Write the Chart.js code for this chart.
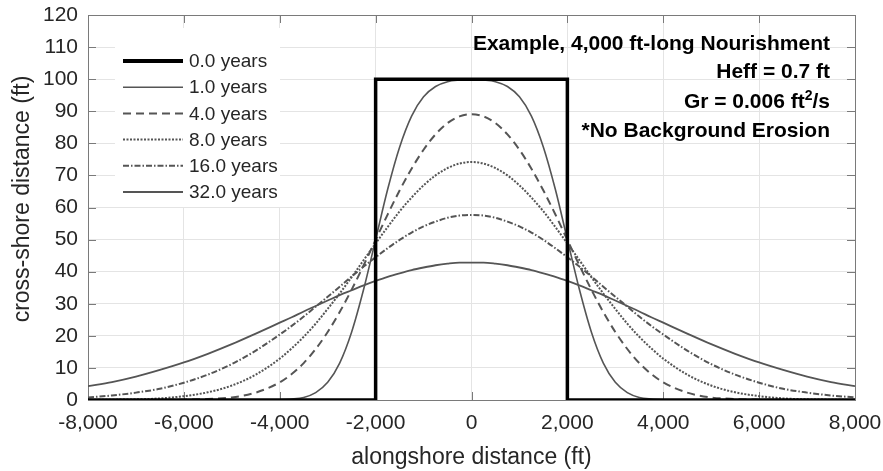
<!DOCTYPE html>
<html>
<head>
<meta charset="utf-8">
<script src="https://cdn.jsdelivr.net/npm/chart.js@4.4.1/dist/chart.umd.min.js"></script>
<style>
  html, body { margin: 0; padding: 0; background: #fff; }
  #wrap { width: 883px; height: 471px; }
</style>
</head>
<body>
<div id="wrap"><canvas id="grafico" width="883" height="471"></canvas></div>
<script>
// alongshore positions (ft) shared by the diffused profiles
const xs = [-8000,-7500,-7000,-6500,-6000,-5500,-5000,-4500,
  -4000,-3750,-3500,-3250,-3000,-2750,-2500,-2250,-2000,-1750,-1500,-1250,-1000,-750,-500,-250,
  0,250,500,750,1000,1250,1500,1750,2000,2250,2500,2750,3000,3250,3500,3750,4000,
  4500,5000,5500,6000,6500,7000,7500,8000];

// initial fill: 4,000 ft long, 100 ft wide
const stepX = [-8000, -2000, -2000, 2000, 2000, 8000];
const stepY = [0, 0, 100, 100, 0, 0];

// shoreline position (ft) after each time
const y1 = [0,0,0,0,0,0,0,0, 0.1,0.3,0.8,2.3,5.5,11.5,21.2,34.5,50.0,65.6,78.8,88.5,94.5,97.7,99.2,99.7,
  99.9, 99.7,99.2,97.7,94.5,88.5,78.8,65.6,50.0,34.5,21.2,11.5,5.5,2.3,0.8,0.3,0.1, 0,0,0,0,0,0,0,0];
const y4 = [0,0,0,0,0.1,0.3,0.8,2.3, 5.5,8.1,11.5,15.9,21.2,27.4,34.4,42.0,49.9,57.8,65.3,72.1,78.0,82.8,86.3,88.4,
  89.1, 88.4,86.3,82.8,78.0,72.1,65.3,57.8,49.9,42.0,34.4,27.4,21.2,15.9,11.5,8.1,5.5, 2.3,0.8,0.3,0.1,0,0,0,0];
const y8 = [0,0.1,0.2,0.5,1.2,2.4,4.5,7.9, 12.9,16.1,19.7,23.8,28.4,33.2,38.3,43.6,48.8,53.9,58.8,63.1,66.9,70.0,72.3,73.7,
  74.2, 73.7,72.3,70.0,66.9,63.1,58.8,53.9,48.8,43.6,38.3,33.2,28.4,23.8,19.7,16.1,12.9, 7.9,4.5,2.4,1.2,0.5,0.2,0.1,0];
const y16 = [0.8,1.4,2.3,3.5,5.4,7.9,11.2,15.4, 20.4,23.1,26.0,29.1,32.2,35.3,38.5,41.6,44.5,47.3,49.9,52.2,54.1,55.6,56.8,57.5,
  57.7, 57.5,56.8,55.6,54.1,52.2,49.9,47.3,44.5,41.6,38.5,35.3,32.2,29.1,26.0,23.1,20.4, 15.4,11.2,7.9,5.4,3.5,2.3,1.4,0.8];
const y32 = [4.3,5.6,7.3,9.4,11.7,14.4,17.4,20.7, 24.1,25.8,27.6,29.3,31.0,32.7,34.2,35.7,37.1,38.4,39.5,40.5,41.3,42.0,42.5,42.8,
  42.8, 42.8,42.5,42.0,41.3,40.5,39.5,38.4,37.1,35.7,34.2,32.7,31.0,29.3,27.6,25.8,24.1, 20.7,17.4,14.4,11.7,9.4,7.3,5.6,4.3];

const labels = ["0.0 years","1.0 years","4.0 years","8.0 years","16.0 years","32.0 years"];
const notes = ["Example, 4,000 ft-long Nourishment","Heff = 0.7 ft","*No Background Erosion"];
const yTitulo = "cross-shore distance (ft)";

const FONT = "'Liberation Sans', Arial, sans-serif";
const cinza = "#555555";

function pares(xv, yv){ return xv.map((x,i) => ({x: x, y: yv[i]})); }

function curva(label, yv, dash, w){
  return {
    label: label, data: pares(xs, yv),
    borderColor: cinza, borderWidth: w, borderDash: dash,
    pointRadius: 0, cubicInterpolationMode: "monotone", fill: false
  };
}

// box with inward tick marks on all four sides
const caixa = {
  id: "caixa",
  beforeDatasetsDraw(chart){
    const {ctx, chartArea: a, scales: {x, y}} = chart;
    ctx.save();
    ctx.strokeStyle = "#7a7a7a";
    ctx.lineWidth = 1;
    ctx.beginPath();
    x.ticks.forEach(t => {
      const px = Math.round(x.getPixelForValue(t.value)) + 0.5;
      ctx.moveTo(px, a.bottom); ctx.lineTo(px, a.bottom - 8);
      ctx.moveTo(px, a.top); ctx.lineTo(px, a.top + 8);
    });
    y.ticks.forEach(t => {
      const py = Math.round(y.getPixelForValue(t.value)) + 0.5;
      ctx.moveTo(a.left, py); ctx.lineTo(a.left + 8, py);
      ctx.moveTo(a.right, py); ctx.lineTo(a.right - 8, py);
    });
    ctx.stroke();
    ctx.strokeRect(Math.round(a.left) + 0.5, Math.round(a.top) + 0.5,
      Math.round(a.right - a.left), Math.round(a.bottom - a.top));
    ctx.restore();
  }
};

// legend inside the axes, upper left
const legenda = {
  id: "legenda",
  afterDatasetsDraw(chart){
    const {ctx, chartArea: a} = chart;
    ctx.save();
    ctx.fillStyle = "#fff";
    ctx.fillRect(a.left + 27, a.top + 13, 165, 179);
    ctx.font = "19px " + FONT;
    ctx.textBaseline = "middle";
    ctx.textAlign = "left";
    chart.data.datasets.forEach((ds, i) => {
      const yy = a.top + 46 + i * 26.2;
      ctx.setLineDash(ds.borderDash || []);
      ctx.lineWidth = i === 0 ? 4 : ds.borderWidth;
      ctx.strokeStyle = ds.borderColor;
      ctx.beginPath();
      ctx.moveTo(a.left + 35, yy);
      ctx.lineTo(a.left + 95, yy);
      ctx.stroke();
      ctx.setLineDash([]);
      ctx.fillStyle = "#262626";
      ctx.fillText(ds.label, a.left + 101, yy + 1);
    });
    ctx.restore();
  }
};

// run notes, right aligned in the upper right corner, plus the y axis title
const notas = {
  id: "notas",
  afterDatasetsDraw(chart){
    const {ctx, chartArea: a} = chart;
    const xr = a.right - 25;
    ctx.save();
    ctx.fillStyle = "#000";
    ctx.textBaseline = "alphabetic";
    ctx.font = "bold 21px " + FONT;
    ctx.textAlign = "right";
    ctx.fillText(notes[0], xr, a.top + 34.5);
    ctx.fillText(notes[1], xr, a.top + 63);
    ctx.fillText(notes[2], xr, a.top + 121.5);
    // Gr = 0.006 ft²/s with a raised 2
    const p1 = "Gr = 0.006 ft", p3 = "/s";
    const w1 = ctx.measureText(p1).width, w3 = ctx.measureText(p3).width;
    ctx.font = "bold 14px " + FONT;
    const w2 = ctx.measureText("2").width;
    ctx.textAlign = "left";
    let x0 = xr - (w1 + w2 + w3);
    const base = a.top + 92.5;
    ctx.font = "bold 21px " + FONT;
    ctx.fillText(p1, x0, base);
    ctx.font = "bold 14px " + FONT;
    ctx.fillText("2", x0 + w1, base - 8);
    ctx.font = "bold 21px " + FONT;
    ctx.fillText(p3, x0 + w1 + w2, base);

    // y title, rotated
    ctx.translate(23, 199);
    ctx.rotate(-Math.PI / 2);
    ctx.font = "23px " + FONT;
    ctx.fillStyle = "#262626";
    ctx.textAlign = "center";
    ctx.textBaseline = "middle";
    ctx.fillText(yTitulo, 0, 0);
    ctx.restore();
  }
};

let ctx = document.getElementById("grafico").getContext("2d");
let grafico = new Chart(ctx, {
  type: "line",
  data: {
    datasets: [
      { label: labels[0], data: pares(stepX, stepY), borderColor: "#000", borderWidth: 3.5,
        pointRadius: 0, tension: 0, fill: false },
      curva(labels[1], y1, [], 1.6),
      curva(labels[2], y4, [8,5], 2),
      curva(labels[3], y8, [2,1.5], 2),
      curva(labels[4], y16, [6,2,1.5,2], 2),
      curva(labels[5], y32, [], 1.8)
    ]
  },
  options: {
    responsive: false,
    animation: false,
    devicePixelRatio: 1,
    layout: { padding: { top: 15, right: 28, left: 0, bottom: 0 } },
    plugins: { legend: { display: false }, tooltip: { enabled: false } },
    scales: {
      x: {
        type: "linear", min: -8000, max: 8000,
        afterFit: s => { s.height = 71; s.paddingLeft = 0; s.paddingRight = 0; },
        grid: { color: "#e4e4e4", drawTicks: false },
        border: { display: false },
        ticks: { stepSize: 2000, padding: 11, color: "#262626", font: { family: FONT, size: 21 },
          maxRotation: 0, callback: v => v.toLocaleString("en-US") },
        title: { display: true, text: "alongshore distance (ft)", color: "#262626",
          font: { family: FONT, size: 23 }, padding: { top: 0, bottom: 0 } }
      },
      y: {
        min: 0, max: 120,
        afterFit: s => { s.width = 88; s.paddingTop = 0; s.paddingBottom = 0; },
        grid: { color: "#e4e4e4", drawTicks: false },
        border: { display: false },
        ticks: { stepSize: 10, padding: 10, color: "#262626", font: { family: FONT, size: 21 } }
      }
    }
  },
  plugins: [caixa, legenda, notas]
});
</script>
</body>
</html>
